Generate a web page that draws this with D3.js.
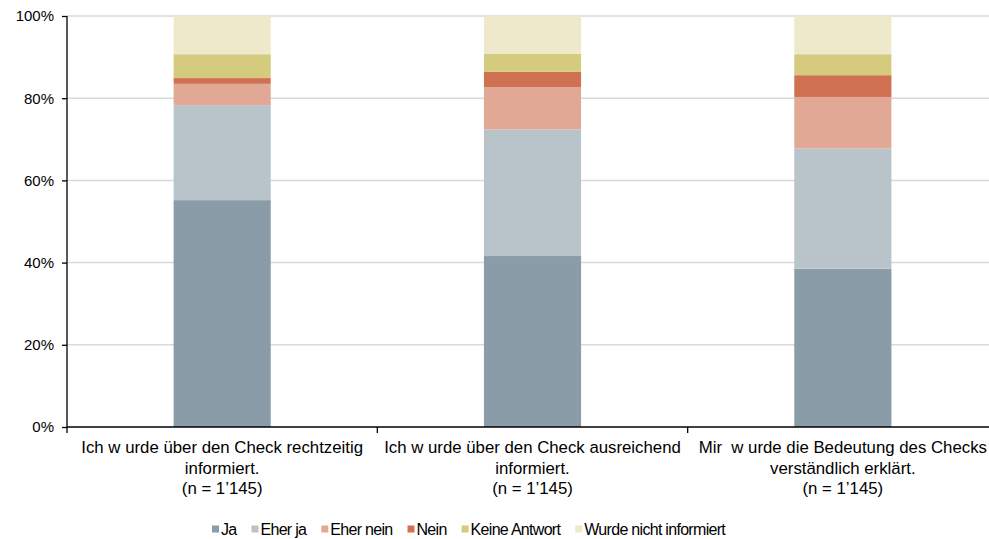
<!DOCTYPE html>
<html>
<head>
<meta charset="utf-8">
<script src="https://cdn.jsdelivr.net/npm/d3@7"></script>
<style>
  body { margin: 0; background: #fff; }
  svg { display: block; font-family: "Liberation Sans", Arial, sans-serif; }
</style>
</head>
<body>
<div id="chart"></div>
<script>
// data
const categories = [
  ["Ich w urde über den Check rechtzeitig", "informiert.", "(n = 1’145)"],
  ["Ich w urde über den Check ausreichend", "informiert.", "(n = 1’145)"],
  ["Mir  w urde die Bedeutung des Checks", "verständlich erklärt.", "(n = 1’145)"]
];
const seriesNames = ["Ja", "Eher ja", "Eher nein", "Nein", "Keine Antwort", "Wurde nicht informiert"];
const ja = [55.2, 41.6, 38.5];
const eherJa = [23.1, 30.8, 29.3];
const eherNein = [5.2, 10.3, 12.5];
const nein = [1.4, 3.7, 5.3];
const keineAntwort = [5.8, 4.4, 5.1];
const nichtInformiert = [9.3, 9.2, 9.3];
const yTicks = [0, 20, 40, 60, 80, 100];
const colors = ["#8a9ca7", "#b8c4ca", "#e2a896", "#d07252", "#d5cb7f", "#efe9cc"];

const width = 989, height = 539;
const margin = { top: 16, right: -9, bottom: 112, left: 67 };

const svg = d3.select("#chart").append("svg")
  .attr("width", width)
  .attr("height", height);

const rows = categories.map((c, i) => ({
  idx: i,
  "Ja": ja[i], "Eher ja": eherJa[i], "Eher nein": eherNein[i], "Nein": nein[i],
  "Keine Antwort": keineAntwort[i], "Wurde nicht informiert": nichtInformiert[i]
}));
const stacked = d3.stack().keys(seriesNames)(rows);

const x = d3.scaleBand()
  .domain(d3.range(categories.length))
  .range([margin.left, width - margin.right])
  .paddingInner(0.687)
  .paddingOuter(0.3435);
const step = x.step();

const y = d3.scaleLinear()
  .domain([0, 100])
  .range([height - margin.bottom, margin.top]);

const color = d3.scaleOrdinal().domain(seriesNames).range(colors);

// grid
svg.append("g")
  .selectAll("line")
  .data(yTicks.filter(d => d > 0))
  .join("line")
    .attr("x1", margin.left).attr("x2", width)
    .attr("y1", d => y(d)).attr("y2", d => y(d))
    .attr("stroke", "#d9d9d9").attr("stroke-width", 1.5);

// bars
svg.append("g")
  .selectAll("g")
  .data(stacked)
  .join("g")
    .attr("fill", d => color(d.key))
  .selectAll("rect")
  .data(d => d)
  .join("rect")
    .attr("x", d => x(d.data.idx))
    .attr("width", x.bandwidth())
    .attr("y", d => y(d[1]))
    .attr("height", d => y(d[0]) - y(d[1]));

// y axis
const yAxis = svg.append("g")
  .attr("transform", `translate(${margin.left},0)`)
  .call(d3.axisLeft(y).tickValues(yTicks).tickFormat(d => d + "%").tickSize(5).tickPadding(8));
yAxis.select(".domain").attr("stroke", "#000").attr("stroke-width", 1.3).attr("d", `M0,${y(100)}V${y(0)}`);
yAxis.selectAll("line").attr("stroke", "#000").attr("stroke-width", 1.3);
yAxis.selectAll("text").style("font-size", "15px").attr("fill", "#000");

// x axis
const xAxis = svg.append("g");
xAxis.append("line")
  .attr("x1", margin.left).attr("x2", width)
  .attr("y1", y(0)).attr("y2", y(0))
  .attr("stroke", "#000").attr("stroke-width", 1.3);
xAxis.selectAll(".tick")
  .data(d3.range(categories.length + 1))
  .join("line")
    .attr("x1", i => margin.left + i * step).attr("x2", i => margin.left + i * step)
    .attr("y1", y(0)).attr("y2", y(0) + 6)
    .attr("stroke", "#000").attr("stroke-width", 1.3);

const labels = xAxis.selectAll("text")
  .data(categories)
  .join("text")
    .attr("text-anchor", "middle")
    .style("font-size", "16.8px")
    .style("white-space", "pre")
    .attr("fill", "#000");
labels.selectAll("tspan")
  .data((d, i) => d.map(line => ({ line, i })))
  .join("tspan")
    .attr("x", d => x(d.i) + x.bandwidth() / 2)
    .attr("y", (d, j) => y(0) + 26 + j * 20.5)
    .text(d => d.line);

// legend
const legend = svg.append("g").attr("transform", "translate(212,529)");
let lx = 0;
seriesNames.forEach(name => {
  const g = legend.append("g").attr("transform", `translate(${lx},0)`);
  g.append("rect").attr("x", 0).attr("y", -3.5).attr("width", 7).attr("height", 7).attr("fill", color(name));
  const t = g.append("text").attr("x", 9).attr("y", 6)
    .style("font-size", "16px").style("letter-spacing", "-0.7px")
    .attr("fill", "#000").text(name);
  lx += 9 + t.node().getComputedTextLength() + 15;
});
</script>
</body>
</html>
